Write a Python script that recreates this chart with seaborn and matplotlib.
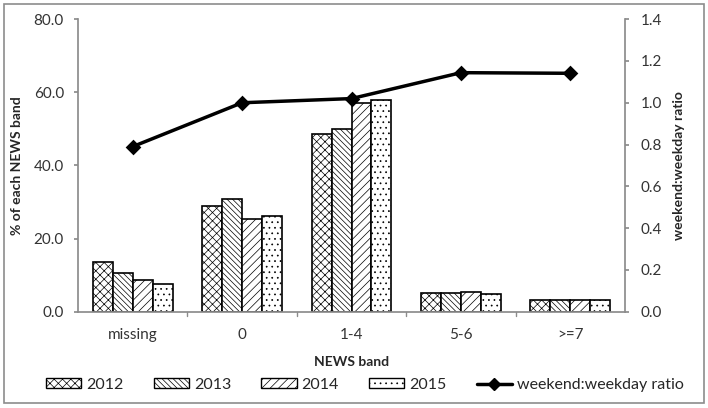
import matplotlib
matplotlib.use("Agg")
import matplotlib.pyplot as plt
import seaborn as sns
import pandas as pd
from matplotlib.patches import Patch, Rectangle
from matplotlib.lines import Line2D

categories = ["missing", "0", "1-4", "5-6", ">=7"]
years = ["2012", "2013", "2014", "2015"]
pct_2012 = [13.7, 29.0, 48.6, 5.0, 3.3]
pct_2013 = [10.7, 30.7, 49.9, 5.0, 3.3]
pct_2014 = [8.6, 25.4, 57.0, 5.4, 3.3]
pct_2015 = [7.5, 26.2, 57.8, 4.8, 3.3]
ratio = [0.79, 1.00, 1.02, 1.144, 1.141]
left_ticks = [0, 20, 40, 60, 80]
right_ticks = [0.0, 0.2, 0.4, 0.6, 0.8, 1.0, 1.2, 1.4]

sns.set_theme(style="white")
plt.rcParams["font.family"] = ["Lato", "DejaVu Sans"]
plt.rcParams["hatch.color"] = "#858585"
plt.rcParams["hatch.linewidth"] = 0.5

rows = []
for y, vals in zip(years, [pct_2012, pct_2013, pct_2014, pct_2015]):
    for c, v in zip(categories, vals):
        rows.append({"band": c, "year": y, "pct": v})
df = pd.DataFrame(rows)
rdf = pd.DataFrame({"band": categories, "ratio": ratio})

FS = 10
TFS = 11

fig = plt.figure(figsize=(7.08, 4.08), dpi=100)
ax = fig.add_axes([0.110, 0.236, 0.773, 0.717])

hatches = ["xxxx", "\\\\\\\\\\\\", "////", "..."]
sns.barplot(data=df, x="band", y="pct", hue="year", order=categories,
            hue_order=years, ax=ax, width=0.73,
            palette=["white"] * 4, edgecolor="black", linewidth=1.2,
            legend=False, saturation=1)
for i, cont in enumerate(ax.containers):
    for p in cont:
        p.set_hatch(hatches[i])
        p.set_facecolor("white")
        p.set_edgecolor("black")

ax.set_ylim(0, 80)
ax.set_yticks(left_ticks)
ax.set_yticklabels([f"{t:.1f}" for t in left_ticks])
ax.set_xlim(-0.5, 4.5)
ax.set_xlabel("NEWS band", fontweight="bold", fontsize=FS, labelpad=10)
ax.set_ylabel("% of each NEWS band", fontweight="bold", fontsize=FS, labelpad=8)

ax2 = ax.twinx()
sns.pointplot(data=rdf, x="band", y="ratio", order=categories, ax=ax2,
              color="black", markers="D", linestyles="-", errorbar=None,
              markersize=6, linewidth=2.5)
ax2.set_ylim(0, 1.4)
ax2.set_yticks(right_ticks)
ax2.set_yticklabels([f"{t:.1f}" for t in right_ticks])
ax2.set_ylabel("weekend:weekday ratio", fontweight="bold", fontsize=FS, labelpad=8)
ax2.set_xlim(-0.5, 4.5)

spine_col = "#8c8c8c"
for a in (ax, ax2):
    for s in a.spines.values():
        s.set_visible(False)
    a.tick_params(colors="#333333", labelsize=TFS)
ax.spines["left"].set_visible(True)
ax.spines["left"].set_color(spine_col)
ax.spines["bottom"].set_visible(True)
ax.spines["bottom"].set_color(spine_col)
ax2.spines["right"].set_visible(True)
ax2.spines["right"].set_color(spine_col)
ax.tick_params(axis="y", left=True, length=3, color=spine_col, pad=7)
ax2.tick_params(axis="y", right=True, length=3, color=spine_col, pad=8)
ax.tick_params(axis="x", bottom=False, pad=6)
for b in [0.5, 1.5, 2.5, 3.5]:
    ax.plot([b, b], [0, -1.3], color=spine_col, lw=1, clip_on=False)

handles = [Patch(facecolor="white", edgecolor="black", hatch=h, label=y)
           for h, y in zip(hatches, years)]
handles.append(Line2D([0], [0], color="black", lw=2.5, marker="D",
                      markersize=6, label="weekend:weekday ratio"))
fig.legend(handles=handles, loc="center left", bbox_to_anchor=(0.045, 1 - 385 / 408),
           ncol=5, frameon=False, fontsize=11.5, columnspacing=1.9,
           handlelength=2.2, handleheight=0.6, handletextpad=0.3)

fig.patches.append(Rectangle((0.005, 0.012), 0.99, 0.978, transform=fig.transFigure,
                             fill=False, edgecolor="#8c8c8c", lw=1.2))

fig.savefig("out.png", dpi=100)
